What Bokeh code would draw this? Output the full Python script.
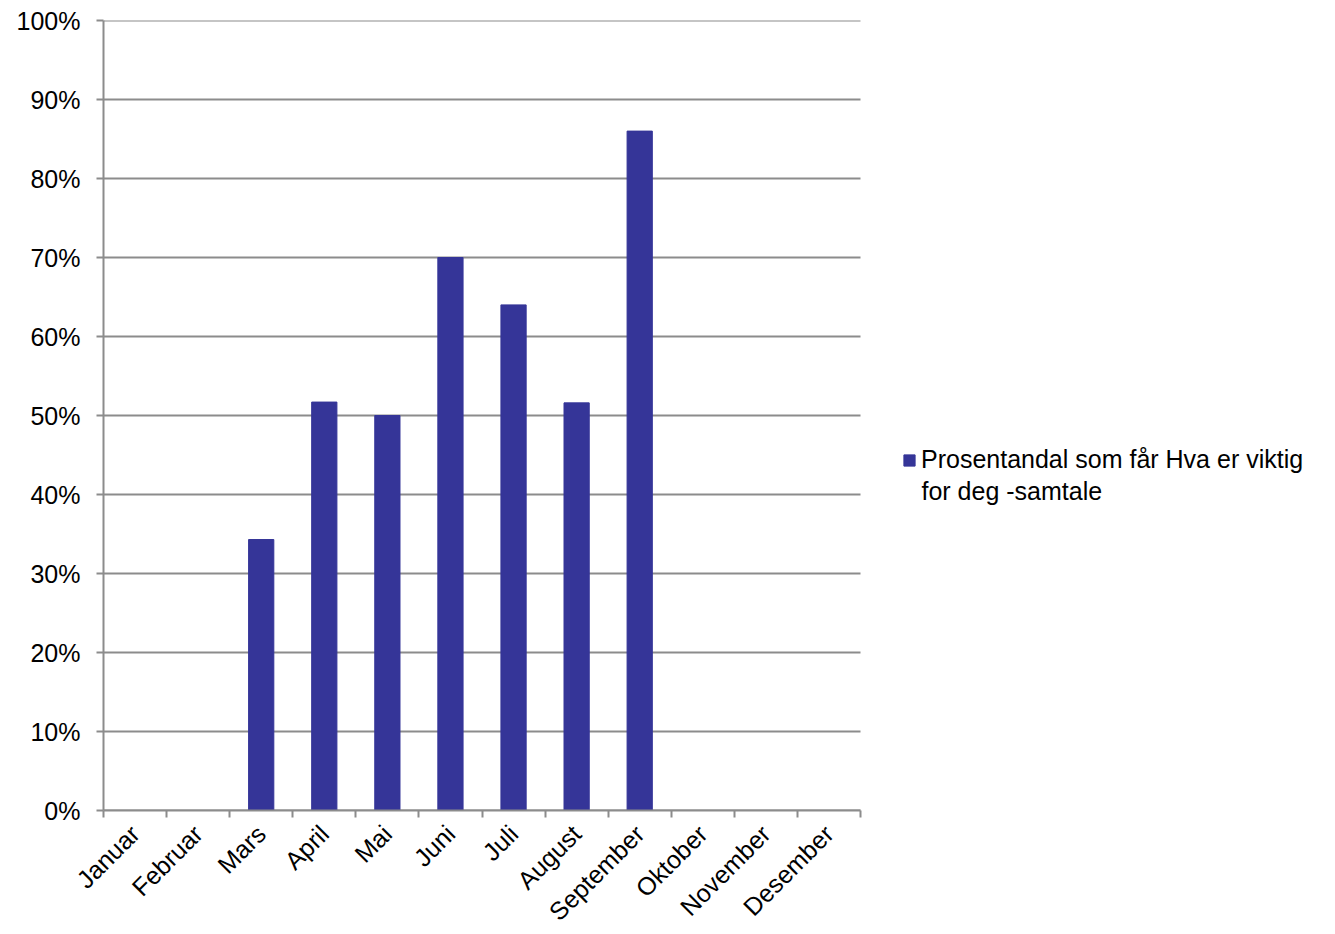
import math
from bokeh.plotting import figure
from bokeh.models import FixedTicker, Legend, LegendItem, Label, Range1d
from bokeh.embed import file_html
from bokeh.resources import INLINE

months = ["Januar", "Februar", "Mars", "April", "Mai", "Juni", "Juli",
          "August", "September", "Oktober", "November", "Desember"]
values = [0, 0, 34.3, 51.7, 50.0, 70.0, 64.0, 51.6, 86.0, 0, 0, 0]
y_ticks = [0, 10, 20, 30, 40, 50, 60, 70, 80, 90, 100]
line1 = "Prosentandal som får Hva er viktig"
line2 = "for deg -samtale"

FONT = "Liberation Sans"
GRID = "#8c8c8c"
BAR = "#353598"

W, H = 1327, 938
LEFT, TOP, BOTTOM_Y, AXIS_RIGHT = 103, 20, 810, 860
RIGHT_BORDER = 3
frame_w = W - LEFT - RIGHT_BORDER
ppu = (AXIS_RIGHT - LEFT) / len(months)
x_end = frame_w / ppu

p = figure(width=W, height=H, output_backend="svg", toolbar_location=None,
           x_range=Range1d(0, x_end), y_range=Range1d(0, 100),
           min_border_left=LEFT, min_border_right=RIGHT_BORDER, min_border_top=TOP,
           min_border_bottom=H - BOTTOM_Y)
p.outline_line_color = None
p.background_fill_color = "white"

# horizontal grid lines only across the category area
p.segment(x0=[0] * len(y_ticks), x1=[len(months)] * len(y_ticks),
          y0=y_ticks, y1=y_ticks, line_color=GRID, line_width=2)

xs = [i + 0.5 for i in range(len(months))]
r = p.vbar(x=xs, top=values, width=0.4, bottom=0, fill_color=BAR, line_color=BAR)

# y axis
p.yaxis.ticker = FixedTicker(ticks=y_ticks)
p.yaxis.major_label_overrides = {t: f"{t}%" for t in y_ticks}
p.yaxis.axis_line_color = GRID
p.yaxis.axis_line_width = 2
p.yaxis.major_tick_line_color = GRID
p.yaxis.major_tick_line_width = 2
p.yaxis.major_tick_out = 7
p.yaxis.major_tick_in = 0
p.yaxis.minor_tick_line_color = None
p.yaxis.major_label_standoff = 16
p.yaxis.major_label_text_font = FONT
p.yaxis.major_label_text_font_size = "25px"
p.yaxis.major_label_text_color = "black"

# x axis: labels at centers, tick marks at boundaries
p.xaxis.bounds = (0, len(months))
p.xaxis.ticker = FixedTicker(ticks=xs, minor_ticks=list(range(len(months) + 1)))
p.xaxis.major_label_overrides = {x: m for x, m in zip(xs, months)}
p.xaxis.major_label_orientation = math.pi / 4
p.xaxis.axis_line_color = GRID
p.xaxis.axis_line_width = 2
p.xaxis.major_tick_line_color = None
p.xaxis.major_tick_out = 0
p.xaxis.major_tick_in = 0
p.xaxis.minor_tick_line_color = GRID
p.xaxis.minor_tick_line_width = 2
p.xaxis.minor_tick_out = 7
p.xaxis.minor_tick_in = 0
p.xaxis.major_label_standoff = 12
p.xaxis.major_label_text_font = FONT
p.xaxis.major_label_text_font_size = "25px"
p.xaxis.major_label_text_color = "black"

p.xgrid.grid_line_color = None
p.ygrid.grid_line_color = None

legend = Legend(items=[LegendItem(label=line1, renderers=[r])],
                location=(799, 336), padding=0, margin=0, spacing=0,
                border_line_color=None, background_fill_alpha=0,
                glyph_width=14, glyph_height=14, label_standoff=5,
                label_text_font=FONT, label_text_font_size="25px",
                label_text_color="black")
p.add_layout(legend)
p.add_layout(Label(x=818, y=320, x_units="screen", y_units="screen", text=line2,
                   text_font=FONT, text_font_size="25px", text_color="black",
                   text_baseline="middle"))

open("out.html", "w").write(file_html(p, INLINE))
